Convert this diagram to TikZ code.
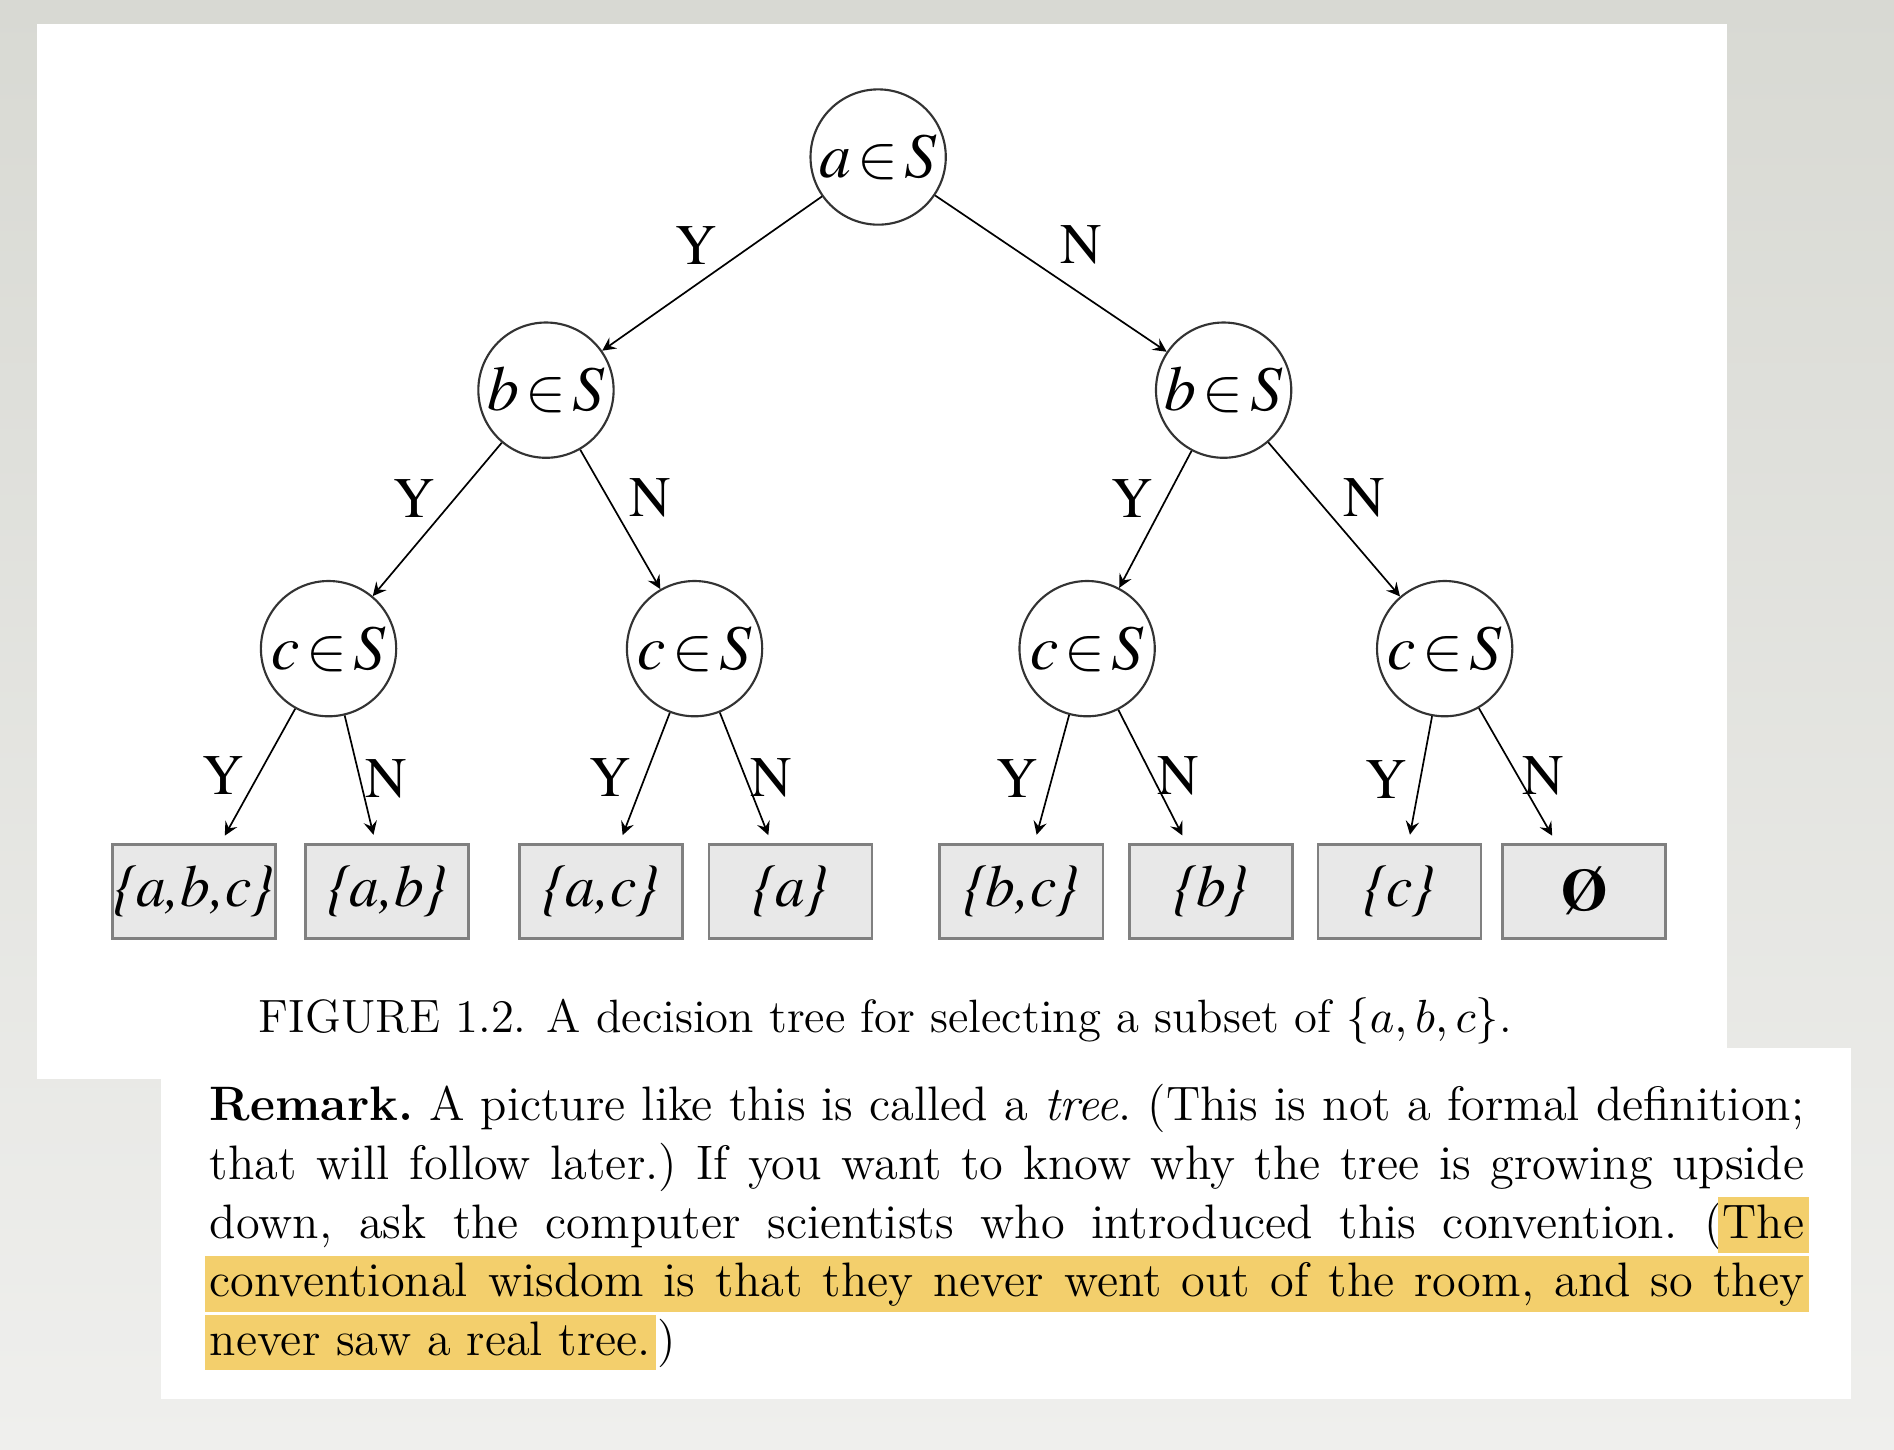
\documentclass[tikz,border=0pt]{standalone}
\usepackage[T1,TU]{fontenc}
\usepackage{fontspec}
\usepackage{amsmath}
\usetikzlibrary{arrows}
\definecolor{bgtop}{RGB}{216,217,211}
\definecolor{bgbot}{RGB}{239,239,237}
\definecolor{hlyellow}{RGB}{243,207,108}
\definecolor{leafgray}{RGB}{232,232,232}
\newcommand{\timesfont}{\fontencoding{T1}\fontfamily{ptm}\selectfont}
\newcommand{\memb}[1]{\textit{#1}\kern1.5pt$\in$\kern1.5pt\textit{S}}

\begin{document}
\begin{tikzpicture}[
  dec/.style={circle, draw=black!80, line width=0.5pt, minimum size=1.12cm, inner sep=0pt,
    font=\timesfont\fontsize{15}{18}\selectfont},
  leafbox/.style={rectangle, draw=black!50, line width=0.6pt, fill=leafgray,
    minimum width=1.35cm, minimum height=0.78cm, inner sep=0pt,
    font=\timesfont\itshape\fontsize{14}{17}\selectfont},
  edge/.style={->, >=stealth, line width=0.4pt},
  lab/.style={font=\timesfont\fontsize{13.5}{15}\selectfont, inner sep=2pt},
  txt/.style={anchor=base west, inner sep=0pt, font=\fontsize{11.4}{13.5}\selectfont\frenchspacing},
  hl/.style={fill=hlyellow, inner xsep=1.2pt, inner ysep=0pt, text height=9.6pt, text depth=3.5pt,
    font=\fontsize{11.4}{13.5}\selectfont\frenchspacing}
]
%fond
\fill[top color=bgtop, bottom color=bgbot] (0,0) rectangle (15.68,12);
\fill[white] (0.31,11.80) rectangle (14.30,3.07);
\fill[white] (1.33,3.32) rectangle (15.32,0.42);

%noeuds de decision
\node[dec] (root) at (7.27,10.70) {\memb{a}};
\node[dec] (bY) at (4.52,8.77) {\memb{b}};
\node[dec] (bN) at (10.13,8.77) {\memb{b}};
\node[dec] (cYY) at (2.72,6.63) {\memb{c}};
\node[dec] (cYN) at (5.75,6.63) {\memb{c}};
\node[dec] (cNY) at (9.00,6.63) {\memb{c}};
\node[dec] (cNN) at (11.96,6.63) {\memb{c}};

%feuilles
\node[leafbox] (sabc) at (1.605,4.62) {\{a,b,c\}};
\node[leafbox] (sab) at (3.205,4.62) {\{a,b\}};
\node[leafbox] (sac) at (4.975,4.62) {\{a,c\}};
\node[leafbox] (sa) at (6.545,4.62) {\{a\}};
\node[leafbox] (sbc) at (8.455,4.62) {\{b,c\}};
\node[leafbox] (sb) at (10.025,4.62) {\{b\}};
\node[leafbox] (sc) at (11.585,4.62) {\{c\}};
\node[leafbox] (sempty) at (13.115,4.62) {\upshape\bfseries\O};

%aretes
\draw[edge] (root) -- node[lab, above left, xshift=0.12cm] {Y} (bY);
\draw[edge] (root) -- node[lab, above right] {N} (bN);
\draw[edge] (bY) -- node[lab, above left, xshift=0.06cm, yshift=-0.06cm] {Y} (cYY);
\draw[edge] (bY) -- node[lab, above right, yshift=-0.06cm] {N} (cYN);
\draw[edge] (bN) -- node[lab, above left, xshift=0.06cm, yshift=-0.06cm] {Y} (cNY);
\draw[edge] (bN) -- node[lab, above right, yshift=-0.06cm] {N} (cNN);

\draw[edge, shorten >=2pt] (cYY) -- node[lab, left, inner sep=3pt] {Y} (sabc);
\draw[edge, shorten >=2pt] (cYY) -- node[lab, right, inner sep=1pt] {N} (sab);
\draw[edge, shorten >=2pt] (cYN) -- node[lab, left, inner sep=3pt] {Y} (sac);
\draw[edge, shorten >=2pt] (cYN) -- node[lab, right, inner sep=1pt] {N} (sa);
\draw[edge, shorten >=2pt] (cNY) -- node[lab, left, inner sep=3pt] {Y} (sbc);
\draw[edge, shorten >=2pt] (cNY) -- node[lab, right, inner sep=1pt] {N} (sb);
\draw[edge, shorten >=2pt] (cNN) -- node[lab, left, inner sep=3pt] {Y} (sc);
\draw[edge, shorten >=2pt] (cNN) -- node[lab, right, inner sep=1pt] {N} (sempty);

%legende
\node[font=\fontsize{11}{13}\selectfont, inner sep=0pt] (caption) at (7.33,3.55)
  {FIGURE 1.2. A decision tree for selecting a subset of $\{a,b,c\}$.};

%remarque
\node[txt] (line1) at (1.73,2.72) {\makebox[13.2cm][s]{\textbf{Remark.} A picture like this is called a \textit{tree}. (This is not a formal definition;}};
\node[txt] (line2) at (1.73,2.235) {\makebox[13.2cm][s]{that will follow later.) If you want to know why the tree is growing upside}};
\node[txt] (line3) at (1.73,1.75) {\makebox[13.2cm][s]{down, ask the computer scientists who introduced this convention. (\phantom{The}}};
\node[hl, anchor=base east, xshift=1.2pt] (the) at (line3.base east) {The};
\node[hl, anchor=base west, xshift=-1.2pt] (line4) at (1.73,1.265) {\makebox[13.2cm][s]{conventional wisdom is that they never went out of the room, and so they}};
\node[hl, anchor=base west, xshift=-1.2pt] (line5) at (1.73,0.78) {never saw a real tree.};
\node[txt] (paren) at (line5.base east) {)};
\end{tikzpicture}
\end{document}
